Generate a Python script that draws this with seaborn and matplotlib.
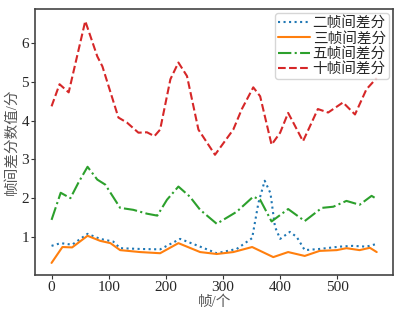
import pandas as pd
import numpy as np
import matplotlib.pyplot as plt
import seaborn as sns

# values
x_two = [0, 16, 36, 63, 85, 108, 120, 155, 190, 225, 260, 289, 324, 351, 362, 373, 383, 391, 400, 417, 429, 443, 469, 504, 527, 551, 569]
y_two = [0.77, 0.84, 0.80, 1.08, 0.95, 0.88, 0.71, 0.69, 0.68, 0.95, 0.75, 0.58, 0.69, 0.97, 1.88, 2.45, 2.13, 1.26, 0.95, 1.13, 1.00, 0.66, 0.69, 0.75, 0.77, 0.75, 0.82]

x_three = [0, 19, 36, 63, 85, 103, 120, 155, 190, 222, 260, 289, 318, 351, 388, 414, 443, 469, 499, 516, 539, 557, 569]
y_three = [0.33, 0.74, 0.73, 1.03, 0.90, 0.84, 0.66, 0.61, 0.58, 0.84, 0.61, 0.56, 0.61, 0.74, 0.48, 0.61, 0.51, 0.64, 0.66, 0.71, 0.66, 0.72, 0.61]

x_five = [0, 16, 33, 47, 63, 80, 94, 120, 143, 167, 185, 202, 222, 242, 260, 289, 324, 353, 365, 385, 414, 443, 473, 493, 516, 539, 560, 569]
y_five = [1.44, 2.14, 2.00, 2.40, 2.81, 2.48, 2.35, 1.75, 1.70, 1.60, 1.55, 1.96, 2.30, 2.04, 1.70, 1.34, 1.65, 2.04, 1.96, 1.40, 1.72, 1.41, 1.75, 1.78, 1.93, 1.83, 2.06, 1.98]

x_ten = [0, 14, 30, 59, 80, 89, 117, 132, 152, 167, 180, 190, 208, 222, 237, 257, 286, 318, 333, 353, 365, 385, 400, 414, 423, 440, 452, 466, 484, 510, 531, 551, 569]
y_ten = [4.37, 4.94, 4.73, 6.57, 5.66, 5.40, 4.08, 3.95, 3.69, 3.70, 3.60, 3.77, 5.07, 5.50, 5.15, 3.77, 3.12, 3.77, 4.30, 4.86, 4.63, 3.38, 3.69, 4.20, 3.95, 3.47, 3.85, 4.30, 4.21, 4.47, 4.16, 4.81, 5.10]

labels = ['二帧间差分', '三帧间差分', '五帧间差分', '十帧间差分']

sns.set_style("ticks")
plt.rcParams['font.family'] = ['Liberation Serif', 'Noto Sans CJK SC']

fig, ax = plt.subplots(figsize=(4.01, 3.09), dpi=100)
colors = sns.color_palette("tab10")

sns.lineplot(x=x_two, y=y_two, ax=ax, color=colors[0], linestyle=':', linewidth=1.5, label=labels[0])
sns.lineplot(x=x_three, y=y_three, ax=ax, color=colors[1], linestyle='-', linewidth=1.5, label=labels[1])
sns.lineplot(x=x_five, y=y_five, ax=ax, color=colors[2], linestyle='-.', linewidth=1.5, label=labels[2])
sns.lineplot(x=x_ten, y=y_ten, ax=ax, color=colors[3], linestyle='--', linewidth=1.5, label=labels[3])

ax.set_xticks([0, 100, 200, 300, 400, 500])
ax.set_yticks([1, 2, 3, 4, 5, 6])
ax.tick_params(labelsize=11, direction='out', length=3, pad=1.5, color='#333333')
for s in ax.spines.values():
    s.set_color('#444444')
    s.set_linewidth(1.2)

ax.set_xlabel('帧/个', fontsize=10.5, color='#555555', labelpad=1)
ax.set_ylabel('帧间差分数值/分', fontsize=10.5, color='#555555', labelpad=2)

leg = ax.legend(loc='upper right', fontsize=10.5, handlelength=2.2, handletextpad=0.2,
                borderpad=0.2, labelspacing=0.1, borderaxespad=0.3)

fig.subplots_adjust(left=0.088, right=0.98, top=0.971, bottom=0.11)
fig.savefig('out.png', dpi=100)
